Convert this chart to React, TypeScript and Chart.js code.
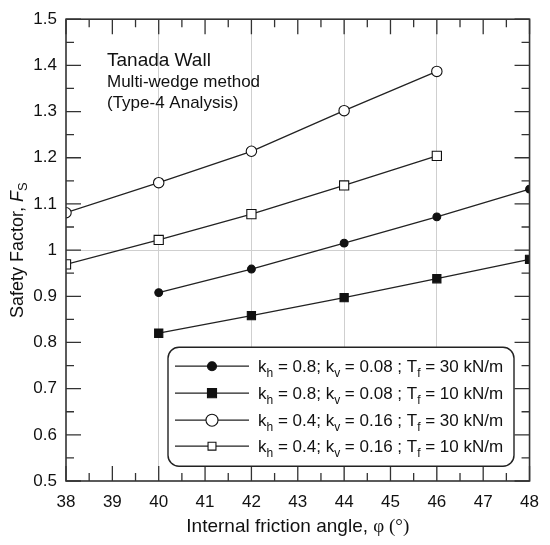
import React, { useEffect, useRef } from "react";
import { Chart, registerables } from "chart.js";

Chart.register(...registerables);

// ---- data ----
const anglesA = [40, 42, 44, 46, 48];
const anglesB = [38, 40, 42, 44, 46];
const fsKh08T30 = [0.908, 0.959, 1.015, 1.072, 1.132];
const fsKh08T10 = [0.82, 0.858, 0.897, 0.938, 0.98];
const fsKh04T30 = [1.081, 1.146, 1.214, 1.302, 1.387];
const fsKh04T10 = [0.969, 1.022, 1.078, 1.14, 1.204];

const xTicks = [38, 39, 40, 41, 42, 43, 44, 45, 46, 47, 48];
const yTicks = [0.5, 0.6, 0.7, 0.8, 0.9, 1, 1.1, 1.2, 1.3, 1.4, 1.5];

type Part = { t: string; sub?: boolean; italic?: boolean; serif?: boolean };
const legendParts = (kh: string, kv: string, tf: string): Part[] => [
  { t: "k" },
  { t: "h", sub: true },
  { t: ` = ${kh}; k` },
  { t: "v", sub: true },
  { t: ` = ${kv} ; T` },
  { t: "f", sub: true },
  { t: ` = ${tf} kN/m` },
];
const legendLabels = [
  legendParts("0.8", "0.08", "30"),
  legendParts("0.8", "0.08", "10"),
  legendParts("0.4", "0.16", "30"),
  legendParts("0.4", "0.16", "10"),
];
const legendMarkerRadius = [4.5, 6.4, 6, 5.6];

const SANS = "'Liberation Sans', Arial, sans-serif";
const SERIF = "'Liberation Serif', 'Times New Roman', serif";

function fontFor(p: Part, size: number, subSize: number) {
  const s = p.sub ? subSize : size;
  return `${p.italic ? "italic " : ""}${s}px ${p.serif ? SERIF : SANS}`;
}

function measureParts(ctx: CanvasRenderingContext2D, parts: Part[], size: number, subSize: number) {
  let w = 0;
  for (const p of parts) {
    ctx.font = fontFor(p, size, subSize);
    w += ctx.measureText(p.t).width;
  }
  return w;
}

function drawParts(
  ctx: CanvasRenderingContext2D,
  parts: Part[],
  x: number,
  y: number,
  size: number,
  subSize: number,
  subShift: number
) {
  ctx.textBaseline = "alphabetic";
  ctx.textAlign = "left";
  let cx = x;
  for (const p of parts) {
    ctx.font = fontFor(p, size, subSize);
    ctx.fillText(p.t, cx, p.sub ? y + subShift : y);
    cx += ctx.measureText(p.t).width;
  }
}

function drawMarker(ctx: CanvasRenderingContext2D, ds: any, x: number, y: number, r: number) {
  ctx.save();
  ctx.lineWidth = ds.pointBorderWidth;
  ctx.strokeStyle = ds.pointBorderColor;
  ctx.fillStyle = ds.pointBackgroundColor;
  ctx.beginPath();
  if (ds.pointStyle === "rect") {
    const s = Math.SQRT1_2 * r;
    ctx.rect(x - s, y - s, 2 * s, 2 * s);
  } else {
    ctx.arc(x, y, r, 0, Math.PI * 2);
  }
  ctx.fill();
  ctx.stroke();
  ctx.restore();
}

const framePlugin = {
  id: "frameTicks",
  afterDatasetsDraw(chart: any) {
    const ctx: CanvasRenderingContext2D = chart.ctx;
    const { left, right, top, bottom } = chart.chartArea;
    const xs = chart.scales.x;
    const ys = chart.scales.y;
    ctx.save();
    ctx.strokeStyle = "#333";
    ctx.lineWidth = 1.3;
    ctx.beginPath();
    for (let i = 0; i < xTicks.length; i++) {
      const v = xTicks[i];
      const px = xs.getPixelForValue(v);
      ctx.moveTo(px, bottom);
      ctx.lineTo(px, bottom - 15);
      ctx.moveTo(px, top);
      ctx.lineTo(px, top + 15);
      if (i < xTicks.length - 1) {
        const pm = xs.getPixelForValue(v + 0.5);
        ctx.moveTo(pm, bottom);
        ctx.lineTo(pm, bottom - 8);
        ctx.moveTo(pm, top);
        ctx.lineTo(pm, top + 8);
      }
    }
    for (let i = 0; i < yTicks.length; i++) {
      const v = yTicks[i];
      const py = ys.getPixelForValue(v);
      ctx.moveTo(left, py);
      ctx.lineTo(left + 15, py);
      ctx.moveTo(right, py);
      ctx.lineTo(right - 15, py);
      if (i < yTicks.length - 1) {
        const pm = ys.getPixelForValue(v + 0.05);
        ctx.moveTo(left, pm);
        ctx.lineTo(left + 8, pm);
        ctx.moveTo(right, pm);
        ctx.lineTo(right - 8, pm);
      }
    }
    ctx.stroke();
    ctx.lineWidth = 1.6;
    ctx.strokeRect(left, top, right - left, bottom - top);

    // annotation text
    ctx.fillStyle = "#111";
    ctx.textAlign = "left";
    ctx.textBaseline = "middle";
    ctx.font = `19px ${SANS}`;
    ctx.fillText("Tanada Wall", left + 41, top + 42);
    ctx.font = `17px ${SANS}`;
    ctx.fillText("Multi-wedge method", left + 41, top + 63);
    ctx.fillText("(Type-4 Analysis)", left + 41, top + 84);

    // legend box
    const bx = left + 102;
    const by = top + 328;
    const bw = 346;
    const bh = 119;
    ctx.beginPath();
    (ctx as any).roundRect(bx, by, bw, bh, 11);
    ctx.fillStyle = "#fff";
    ctx.fill();
    ctx.lineWidth = 1.4;
    ctx.strokeStyle = "#222";
    ctx.stroke();
    const rows = [19, 46, 73, 99];
    chart.data.datasets.forEach((ds: any, i: number) => {
      const ry = by + rows[i];
      ctx.strokeStyle = "#222";
      ctx.lineWidth = 1.3;
      ctx.beginPath();
      ctx.moveTo(bx + 7, ry);
      ctx.lineTo(bx + 81, ry);
      ctx.stroke();
      drawMarker(ctx, ds, bx + 44, ry, legendMarkerRadius[i]);
      ctx.fillStyle = "#111";
      drawParts(ctx, legendLabels[i], bx + 90, ry + 6, 17, 12, 5);
    });

    // axis titles
    ctx.fillStyle = "#111";
    const xt: Part[] = [
      { t: "Internal friction angle, " },
      { t: "\u03c6 (\u00b0)", serif: true },
    ];
    const xw = measureParts(ctx, xt, 19, 13);
    drawParts(ctx, xt, (left + right) / 2 - xw / 2, 532, 19, 13, 4);

    const yt: Part[] = [
      { t: "Safety Factor, " },
      { t: "F", italic: true },
      { t: "S", sub: true },
    ];
    const yw = measureParts(ctx, yt, 18, 13);
    ctx.save();
    ctx.translate(23, (top + bottom) / 2);
    ctx.rotate(-Math.PI / 2);
    drawParts(ctx, yt, -yw / 2, 0, 18, 13, 4);
    ctx.restore();
    ctx.restore();
  },
};

function lineDs(label: string, xs: number[], ys: number[], style: string, filled: boolean, r: number) {
  return {
    label,
    data: xs.map((x, i) => ({ x, y: ys[i] })),
    borderColor: "#222",
    borderWidth: 1.3,
    pointStyle: style,
    pointRadius: r,
    pointBorderWidth: 1.1,
    pointBorderColor: "#111",
    pointBackgroundColor: filled ? "#111" : "#fff",
    fill: false,
    tension: 0,
  };
}

export default function App() {
  const ref = useRef<HTMLCanvasElement | null>(null);
  useEffect(() => {
    document.body.style.margin = "0";
    if (!ref.current) return;
    const chart = new Chart(ref.current, {
      type: "line",
      data: {
        datasets: [
          lineDs("kh=0.8 Tf=30", anglesA, fsKh08T30, "circle", true, 3.9),
          lineDs("kh=0.8 Tf=10", anglesA, fsKh08T10, "rect", true, 5.8),
          lineDs("kh=0.4 Tf=30", anglesB, fsKh04T30, "circle", false, 5.2),
          lineDs("kh=0.4 Tf=10", anglesB, fsKh04T10, "rect", false, 6.5),
        ] as any,
      },
      plugins: [framePlugin],
      options: {
        animation: false,
        responsive: false,
        devicePixelRatio: 1,
        layout: { padding: { top: 15, right: 18, left: 0, bottom: 0 } },
        plugins: { legend: { display: false }, tooltip: { enabled: false } },
        scales: {
          x: {
            type: "linear",
            min: 38,
            max: 48,
            afterFit: (s: any) => {
              s.height = 64;
            },
            afterBuildTicks: (s: any) => {
              s.ticks = xTicks.map((v) => ({ value: v }));
            },
            ticks: {
              stepSize: 1,
              padding: 11,
              color: "#111",
              font: { family: SANS, size: 17 },
              maxRotation: 0,
              autoSkip: false,
            },
            grid: {
              drawTicks: false,
              lineWidth: 1,
              color: (c: any) =>
                c.tick && c.tick.value % 2 === 0 && c.tick.value > 38 && c.tick.value < 48
                  ? "#cfcfcf"
                  : "rgba(0,0,0,0)",
            },
            border: { display: false },
          },
          y: {
            type: "linear",
            min: 0.5,
            max: 1.5,
            afterFit: (s: any) => {
              s.width = 66;
            },
            afterBuildTicks: (s: any) => {
              s.ticks = yTicks.map((v) => ({ value: v }));
            },
            ticks: {
              stepSize: 0.1,
              padding: 9,
              color: "#111",
              font: { family: SANS, size: 17 },
              callback: (v: any) => String(Number(Number(v).toFixed(2))),
            },
            grid: {
              drawTicks: false,
              lineWidth: 1,
              color: (c: any) =>
                c.tick && Math.abs(c.tick.value - 1) < 1e-6 ? "#cfcfcf" : "rgba(0,0,0,0)",
            },
            border: { display: false },
          },
        },
      } as any,
    });
    return () => chart.destroy();
  }, []);
  return (
    <div style={{ width: 550, height: 545, background: "#fff" }}>
      <canvas ref={ref} width={550} height={545} />
    </div>
  );
}
